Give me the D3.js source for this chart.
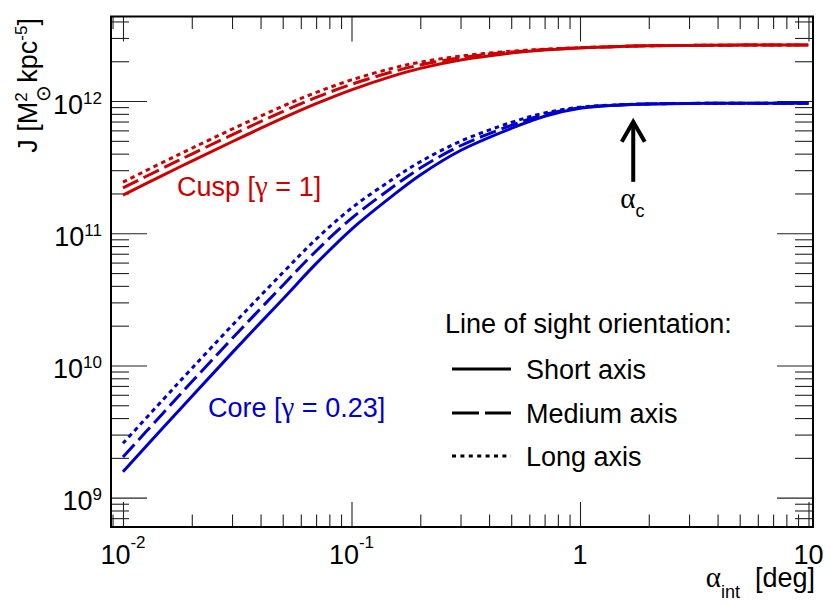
<!DOCTYPE html>
<html>
<head>
<meta charset="utf-8">
<script src="https://cdn.jsdelivr.net/npm/d3@7"></script>
<style>
    body { margin: 0; background: #fff; }
    text { font-family: "Liberation Sans", Arial, Helvetica, sans-serif; }
    .greek { font-family: "Liberation Serif", "Times New Roman", serif; }
</style>
</head>
<body>
<svg id="chart" width="830" height="606"></svg>
<script>
// integration angle [deg]
var alpha = [0.01, 0.015, 0.02, 0.03, 0.05, 0.07, 0.1, 0.15, 0.2, 0.3, 0.5, 0.7, 1, 1.5, 2, 3, 5, 7, 10];

// J-factor, cusp profile (gamma = 1)
var cuspShort  = [1.945e11, 2.754e11, 3.516e11, 4.920e11, 7.413e11, 9.550e11, 1.216e12, 1.538e12, 1.766e12, 2.042e12, 2.307e12, 2.432e12, 2.523e12, 2.588e12, 2.618e12, 2.636e12, 2.649e12, 2.655e12, 2.655e12];
var cuspMedium = [2.203e11, 3.119e11, 3.972e11, 5.546e11, 8.318e11, 1.064e12, 1.337e12, 1.660e12, 1.875e12, 2.123e12, 2.350e12, 2.449e12, 2.529e12, 2.588e12, 2.618e12, 2.636e12, 2.649e12, 2.655e12, 2.655e12];
var cuspLong   = [2.438e11, 3.451e11, 4.395e11, 6.124e11, 9.141e11, 1.161e12, 1.445e12, 1.766e12, 1.968e12, 2.188e12, 2.382e12, 2.466e12, 2.535e12, 2.588e12, 2.618e12, 2.636e12, 2.649e12, 2.655e12, 2.655e12];

// J-factor, core profile (gamma = 0.23)
var coreShort  = [1.570e9, 3.388e9, 5.834e9, 1.245e10, 3.170e10, 5.888e10, 1.072e11, 1.901e11, 2.761e11, 4.227e11, 6.209e11, 7.674e11, 8.810e11, 9.333e11, 9.506e11, 9.594e11, 9.616e11, 9.616e11, 9.616e11];
var coreMedium = [2.032e9, 4.375e9, 7.516e9, 1.596e10, 4.027e10, 7.345e10, 1.297e11, 2.208e11, 3.112e11, 4.592e11, 6.546e11, 7.907e11, 8.892e11, 9.354e11, 9.506e11, 9.594e11, 9.616e11, 9.616e11, 9.616e11];
var coreLong   = [2.576e9, 5.534e9, 9.484e9, 2.004e10, 5.023e10, 9.016e10, 1.549e11, 2.535e11, 3.475e11, 4.966e11, 6.887e11, 8.128e11, 8.974e11, 9.376e11, 9.506e11, 9.594e11, 9.616e11, 9.616e11, 9.616e11];

var xMajor = [0.01, 0.1, 1, 10];
var xLabels = [["10", "-2"], ["10", "-1"], ["1", ""], ["10", ""]];
var yMajor = [1e9, 1e10, 1e11, 1e12];
var yLabels = [["10", "9"], ["10", "10"], ["10", "11"], ["10", "12"]];
var legendTitle = "Line of sight orientation:";
var legendItems = ["Short axis", "Medium axis", "Long axis"];

// alpha_c marker
var arrowX = 1.71, arrowFrom = 2.45e11, arrowTo = 6.97e11;

// frame edges (note: "top" is reserved on window)
var fL = 111, fR = 813, fT = 16.5, fB = 527;
var red = "#cc0000", blue = "#0000cc";
var dashMedium = "17,6", dashLong = "4.5,4";

var svg = d3.select("#chart");

var x = d3.scaleLog().domain([Math.pow(10, -2.0525), Math.pow(10, 1.0197)]).range([fL, fR]);
var y = d3.scaleLog().domain([6.0e8, 4.36e12]).range([fB, fT]);

function minors(lo, hi) {
    var out = [];
    for (var k = lo; k <= hi; k++) {
        for (var m = 2; m <= 9; m++) {
            out.push(m * Math.pow(10, k));
        }
    }
    return out;
}
var xMinor = minors(-3, 1).filter(function(v) { return v > x.domain()[0] && v < x.domain()[1]; });
var yMinor = minors(8, 12).filter(function(v) { return v > y.domain()[0] && v < y.domain()[1]; });

// ticks on all four sides, pointing inward (ROOT style)
function tickGroup(axis, tx, ty) {
    var g = svg.append("g").attr("transform", "translate(" + tx + "," + ty + ")").call(axis);
    g.select(".domain").remove();
    g.selectAll(".tick line").attr("stroke", "#222").attr("stroke-width", 1.1);
    g.selectAll(".tick text").remove();
}
tickGroup(d3.axisBottom(x).tickValues(xMajor).tickSize(-25), 0, fB);
tickGroup(d3.axisBottom(x).tickValues(xMinor).tickSize(-12.5), 0, fB);
tickGroup(d3.axisTop(x).tickValues(xMajor).tickSize(-25), 0, fT);
tickGroup(d3.axisTop(x).tickValues(xMinor).tickSize(-12.5), 0, fT);
tickGroup(d3.axisLeft(y).tickValues(yMajor).tickSize(-36), fL, 0);
tickGroup(d3.axisLeft(y).tickValues(yMinor).tickSize(-18), fL, 0);
tickGroup(d3.axisRight(y).tickValues(yMajor).tickSize(-36), fR, 0);
tickGroup(d3.axisRight(y).tickValues(yMinor).tickSize(-18), fR, 0);

// text with sub/superscripts, laid out piece by piece
function richText(parent, pieces, px, py, anchor, color) {
    var g = parent.append("g");
    var t = g.append("text").style("fill", color || "#000");
    var prev = null;
    pieces.forEach(function(p) {
        var s = t.append("tspan")
            .attr("font-size", p.size || 27)
            .attr("dy", p.dy || 0)
            .text(p.t);
        if (p.cls) s.attr("class", p.cls);
        if (p.back && prev) {
            s.attr("dx", -prev.node().getComputedTextLength());
        } else if (p.dx) {
            s.attr("dx", p.dx);
        }
        prev = s;
    });
    var w = t.node().getBBox().width;
    var shift = anchor === "end" ? -w : anchor === "middle" ? -w / 2 : 0;
    t.attr("x", 0).attr("y", 0);
    g.attr("transform", "translate(" + (px + shift) + "," + py + ")");
    return g;
}

// tick labels
xMajor.forEach(function(v, i) {
    var pcs = [{t: xLabels[i][0]}];
    if (xLabels[i][1]) pcs.push({t: xLabels[i][1], size: 17, dy: -16});
    richText(svg, pcs, x(v), 564, "middle");
});
yMajor.forEach(function(v, i) {
    richText(svg, [{t: yLabels[i][0]}, {t: yLabels[i][1], size: 17, dy: -10}], 102, y(v) + 12.5, "end");
});

// axis titles
richText(svg, [
    {t: "\u03b1", size: 29, cls: "greek"},
    {t: "int", size: 18, dy: 11},
    {t: "[deg]", dy: -11, dx: 15}
], 815, 587, "end");

var yTitle = svg.append("g").attr("transform", "translate(37,18) rotate(-90)");
richText(yTitle, [
    {t: "J [M"},
    {t: "\u2299", size: 20, dy: 13},
    {t: "2", size: 17, dy: -23, back: true},
    {t: " kpc", dy: 10, dx: 2},
    {t: "-5", size: 17, dy: -10},
    {t: "]", dy: 10}
], 0, 0, "end");

// curves
var series = [
    {v: cuspShort,  color: red,  dash: null},
    {v: cuspMedium, color: red,  dash: dashMedium},
    {v: cuspLong,   color: red,  dash: dashLong},
    {v: coreShort,  color: blue, dash: null},
    {v: coreMedium, color: blue, dash: dashMedium},
    {v: coreLong,   color: blue, dash: dashLong}
];

var line = d3.line()
    .x(function(d) { return x(d[0]); })
    .y(function(d) { return y(d[1]); })
    .curve(d3.curveCatmullRom.alpha(0.5));

svg.append("g").selectAll("path")
    .data(series)
    .enter()
    .append("path")
    .attr("d", function(s) { return line(d3.zip(alpha, s.v)); })
    .attr("fill", "none")
    .attr("stroke", function(s) { return s.color; })
    .attr("stroke-width", 3)
    .attr("stroke-dasharray", function(s) { return s.dash; })
;

// frame
svg.append("rect")
    .attr("x", fL).attr("y", fT)
    .attr("width", fR - fL).attr("height", fB - fT)
    .attr("fill", "none").attr("stroke", "#000").attr("stroke-width", 2);

// curve labels
richText(svg, [{t: "Cusp ["}, {t: "\u03b3", cls: "greek", size: 29}, {t: " = 1]"}], x(0.01723), y(1.91e11), "start", red);
richText(svg, [{t: "Core ["}, {t: "\u03b3", cls: "greek", size: 29}, {t: " = 0.23]"}], x(0.02355), y(4.07e9), "start", blue);

// alpha_c arrow
var ax = x(arrowX), aTop = y(arrowTo), aBot = y(arrowFrom);
svg.append("line")
    .attr("x1", ax).attr("x2", ax).attr("y1", aBot).attr("y2", aTop + 2)
    .attr("stroke", "#000").attr("stroke-width", 4);
svg.append("path")
    .attr("d", "M" + (ax - 11.5) + "," + (aTop + 20) + "L" + ax + "," + aTop + "L" + (ax + 11.5) + "," + (aTop + 20))
    .attr("fill", "none").attr("stroke", "#000").attr("stroke-width", 4);
richText(svg, [{t: "\u03b1", size: 29, cls: "greek"}, {t: "c", size: 18, dy: 9}], ax - 13, aBot + 26, "start");

// legend
svg.append("text")
    .attr("x", 445).attr("y", 333)
    .attr("font-size", 27)
    .text(legendTitle);

var legendDash = [null, "27,6", "4,4.4"];
var legendY = [369, 413, 456];
legendItems.forEach(function(name, i) {
    svg.append("line")
        .attr("x1", 452).attr("x2", 511)
        .attr("y1", legendY[i]).attr("y2", legendY[i])
        .attr("stroke", "#000").attr("stroke-width", 3)
        .attr("stroke-dasharray", legendDash[i]);
    svg.append("text")
        .attr("x", 526).attr("y", legendY[i] + 10)
        .attr("font-size", 27)
        .text(name);
});
</script>
</body>
</html>
